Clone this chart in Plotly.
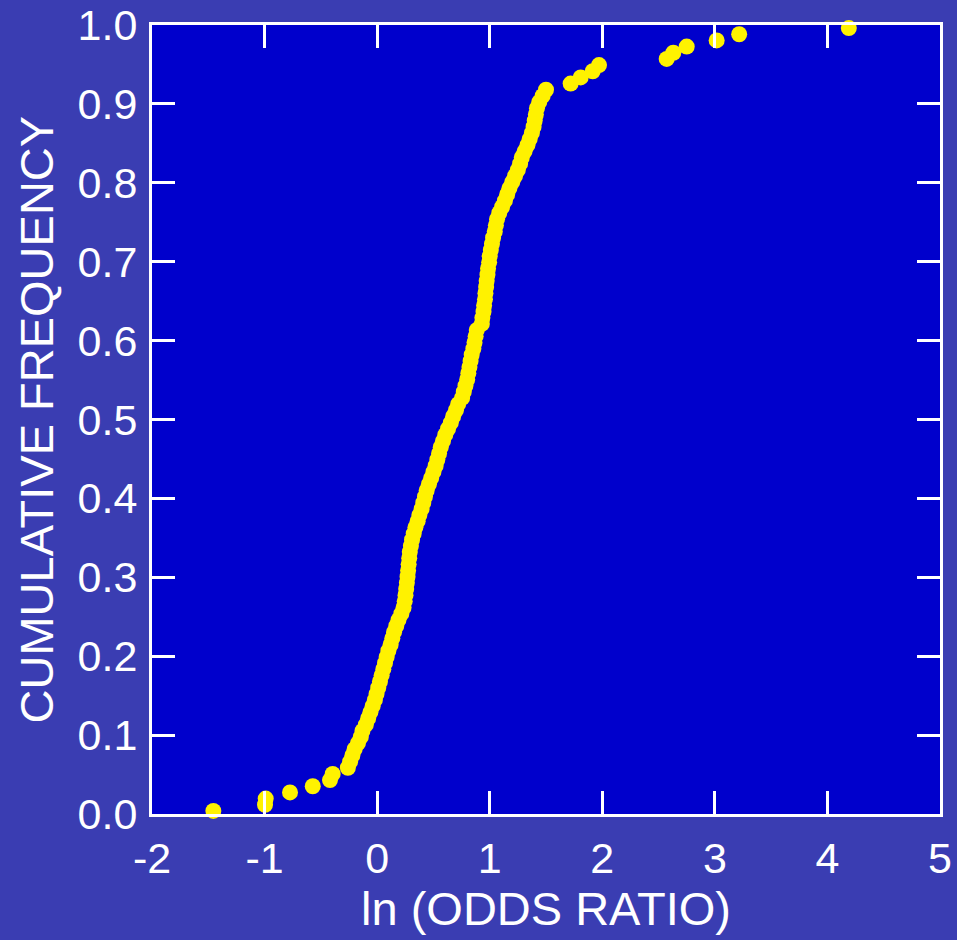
import plotly.graph_objects as go

# ln(odds ratio) values, sorted
ln_odds = [
    -1.455, -0.996, -0.99, -0.774, -0.572, -0.419, -0.395, -0.26,
    -0.24, -0.22, -0.20, -0.17, -0.145, -0.13, -0.10, -0.08, -0.06, -0.04,
    -0.02, -0.005, 0.01, 0.025, 0.04, 0.055, 0.07, 0.085, 0.10, 0.12,
    0.135, 0.15, 0.17, 0.19, 0.215, 0.235, 0.245, 0.252, 0.258, 0.264,
    0.27, 0.275, 0.28, 0.285, 0.29, 0.30, 0.31, 0.325, 0.34, 0.36,
    0.375, 0.395, 0.41, 0.425, 0.44, 0.46, 0.48, 0.50, 0.52, 0.535,
    0.55, 0.565, 0.585, 0.605, 0.63, 0.655, 0.675, 0.70, 0.72, 0.755,
    0.77, 0.785, 0.80, 0.81, 0.82, 0.83, 0.84, 0.855, 0.865, 0.875,
    0.885, 0.93, 0.935, 0.945, 0.95, 0.958, 0.962, 0.968, 0.973, 0.98,
    0.985, 0.995, 1.00, 1.01, 1.02, 1.03, 1.045, 1.055, 1.065, 1.085,
    1.11, 1.135, 1.155, 1.175, 1.20, 1.225, 1.25, 1.27, 1.285, 1.31,
    1.335, 1.355, 1.375, 1.39, 1.40, 1.41, 1.42, 1.44, 1.47, 1.50,
    1.719, 1.808, 1.915, 1.971, 2.572, 2.631, 2.75, 3.016, 3.216, 4.19,
]

# cumulative frequency of each sorted value (empirical CDF, midpoint rank)
n = len(ln_odds)
cum_freq = [(i + 0.5) / n for i in range(n)]

x_tickvals = [-2, -1, 0, 1, 2, 3, 4, 5]
x_ticktext = ["-2", "-1", "0", "1", "2", "3", "4", "5"]
y_tickvals = [0.0, 0.1, 0.2, 0.3, 0.4, 0.5, 0.6, 0.7, 0.8, 0.9, 1.0]
y_ticktext = ["0.0", "0.1", "0.2", "0.3", "0.4", "0.5", "0.6", "0.7", "0.8", "0.9", "1.0"]

FONT = "Liberation Sans, Arial, sans-serif"

fig = go.Figure()
fig.add_trace(go.Scatter(
    x=ln_odds, y=cum_freq, mode="markers",
    marker=dict(color="#fff200", size=16, line=dict(width=0)),
    cliponaxis=False, showlegend=False,
))

axis_common = dict(
    showgrid=False, zeroline=False, automargin=False,
    showline=True, linecolor="white", linewidth=3, mirror="allticks",
    ticks="inside", ticklen=23, tickwidth=2.5, tickcolor="white",
    tickfont=dict(family=FONT, size=43, color="white"),
)

fig.update_layout(
    width=957, height=940,
    margin=dict(l=152, r=17, t=25, b=126),
    paper_bgcolor="#3a3db2",
    plot_bgcolor="#0000cc",
    xaxis=dict(
        range=[-2, 5], tickvals=x_tickvals, ticktext=x_ticktext,
        title=dict(text="ln (ODDS RATIO)", font=dict(family=FONT, size=47, color="white"), standoff=2),
        ticklabelstandoff=4,
        **axis_common,
    ),
    yaxis=dict(
        range=[0, 1], tickvals=y_tickvals, ticktext=y_ticktext,
        ticklabelstandoff=3,
        **axis_common,
    ),
    annotations=[dict(
        text="CUMULATIVE FREQUENCY", textangle=-90,
        xref="paper", yref="paper", x=-0.146, y=0.5,
        xanchor="center", yanchor="middle", showarrow=False,
        font=dict(family=FONT, size=47, color="white"),
    )],
)

fig.write_html("out.html")
